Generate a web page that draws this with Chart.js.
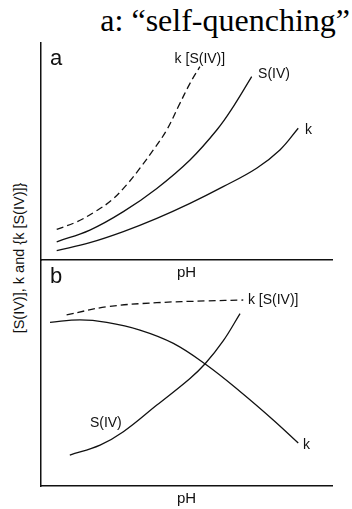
<!DOCTYPE html>
<html>
<head>
<meta charset="utf-8">
<script src="https://cdn.jsdelivr.net/npm/chart.js@4.4.1/dist/chart.umd.min.js"></script>
<style>
  html, body { margin: 0; padding: 0; background: #fff; }
  body { width: 352px; height: 509px; position: relative; overflow: hidden; }
  #title {
    position: absolute; left: 0; top: 0; width: 350px; text-align: right;
    font-family: "Liberation Serif", "Times New Roman", serif;
    font-size: 32px; line-height: 40px; color: #000; white-space: nowrap;
  }
  #ytitle {
    position: absolute; left: 19px; top: 258px; width: 200px; height: 16px;
    margin-left: -100px; margin-top: -8px; text-align: center;
    transform: rotate(-90deg);
    font-family: "Liberation Sans", Arial, sans-serif; font-size: 14.5px;
    line-height: 16px; color: #111; white-space: nowrap;
  }
  canvas { position: absolute; left: 0; }
  #chartA { top: 0; }
  #chartB { top: 240px; }
</style>
</head>
<body>
<div id="title">a: “self-quenching”</div>
<div id="ytitle">[S(IV)], k and {k [S(IV)]}</div>
<canvas id="chartA" width="352" height="290"></canvas>
<canvas id="chartB" width="352" height="269"></canvas>
<script>
// ---- panel a: everything rises with pH ----
const aKsX  = [5.4, 12.3, 18.6, 24.3, 29.4, 34.0, 38.6, 43.2, 47.2, 51.2, 54.6];
const aKsY  = [14.1, 17.6, 22.3, 27.6, 34.6, 42.3, 50.7, 59.9, 70.7, 81.4, 89.1];
const aSX   = [5.4, 16.8, 28.3, 39.8, 51.2, 60.4, 66.1, 72.4];
const aSY   = [8.4, 13.8, 22.3, 33.0, 46.1, 59.9, 70.7, 84.5];
const aKX   = [5.4, 16.8, 28.3, 39.8, 51.2, 62.6, 74.1, 82.1, 88.4];
const aKY   = [4.3, 8.0, 13.1, 19.2, 26.1, 33.8, 42.3, 50.7, 60.7];

// ---- panel b: k falls, S(IV) rises, product stays flat ----
const bKsX  = [8.8, 22.6, 39.8, 56.9, 69.5];
const bKsY  = [75.7, 79.3, 81.1, 81.9, 82.3];
const bKX   = [3.1, 13.4, 22.6, 34.0, 45.5, 56.9, 68.4, 79.8, 88.4];
const bKY   = [72.4, 73.5, 72.4, 69.0, 63.1, 53.5, 41.8, 29.2, 19.0];
const bSX   = [9.9, 20.3, 28.3, 39.8, 51.2, 56.4, 62.6, 68.4];
const bSY   = [13.7, 18.1, 24.0, 35.8, 47.6, 54.1, 64.2, 76.3];

const xTitle = 'pH';

// curve labels: [text, x, y, align]
const aLabels = [
    ['k [S(IV)]', 54.6, 92.6, 'center'],
    ['S(IV)', 74.6, 85.7, 'left'],
    ['k', 90.7, 59.9, 'left']
];
const bLabels = [
    ['k [S(IV)]', 71.1, 82.3, 'left'],
    ['k', 90.0, 18.1, 'left'],
    ['S(IV)', 16.8, 27.9, 'left']
];

const INK = '#111';
const SANS = '"Liberation Sans", Arial, sans-serif';

function zip(xs, ys) {
    return xs.map((x, i) => ({ x: x, y: ys[i] }));
}

function curve(xs, ys, dashed) {
    return {
        data: zip(xs, ys),
        borderColor: INK,
        borderWidth: 1.3,
        borderDash: dashed ? [7, 4] : [],
        pointRadius: 0,
        fill: false,
        tension: 0.4
    };
}

// draws panel letter, curve names and the pH caption
const annotate = {
    id: 'annotate',
    afterDraw(chart, args, opts) {
        const { ctx, chartArea, scales } = chart;
        ctx.save();
        ctx.fillStyle = INK;
        ctx.textBaseline = 'middle';

        ctx.font = '22px ' + SANS;
        ctx.textAlign = 'left';
        ctx.fillText(opts.letter, chartArea.left + 9, scales.y.getPixelForValue(92.7));

        ctx.font = '14px ' + SANS;
        opts.labels.forEach(([txt, x, y, align]) => {
            ctx.textAlign = align;
            ctx.fillText(txt, scales.x.getPixelForValue(x), scales.y.getPixelForValue(y));
        });

        ctx.textAlign = 'center';
        ctx.font = '15px ' + SANS;
        ctx.fillText(xTitle, scales.x.getPixelForValue(50), chartArea.bottom + 13);
        ctx.restore();
    }
};

function axis(min, max) {
    return {
        type: 'linear', min: min, max: max,
        ticks: { display: false },
        grid: { display: false, drawTicks: false },
        border: { display: true, color: INK, width: 1.5 }
    };
}

function makePanel(id, datasets, letter, labels, padding) {
    return new Chart(document.getElementById(id), {
        type: 'line',
        data: { datasets: datasets },
        options: {
            responsive: false,
            animation: false,
            devicePixelRatio: 1,
            layout: { padding: padding },
            plugins: {
                legend: { display: false },
                tooltip: { enabled: false },
                annotate: { letter: letter, labels: labels }
            },
            scales: { x: axis(0, 100), y: axis(0, 100) }
        },
        plugins: [annotate]
    });
}

makePanel('chartA', [
    curve(aKsX, aKsY, true),
    curve(aSX, aSY, false),
    curve(aKX, aKY, false)
], 'a', aLabels, { left: 41, top: 43, right: 20, bottom: 30 });

makePanel('chartB', [
    curve(bKsX, bKsY, true),
    curve(bKX, bKY, false),
    curve(bSX, bSY, false)
], 'b', bLabels, { left: 41, top: 20, right: 20, bottom: 23 });
</script>
</body>
</html>
